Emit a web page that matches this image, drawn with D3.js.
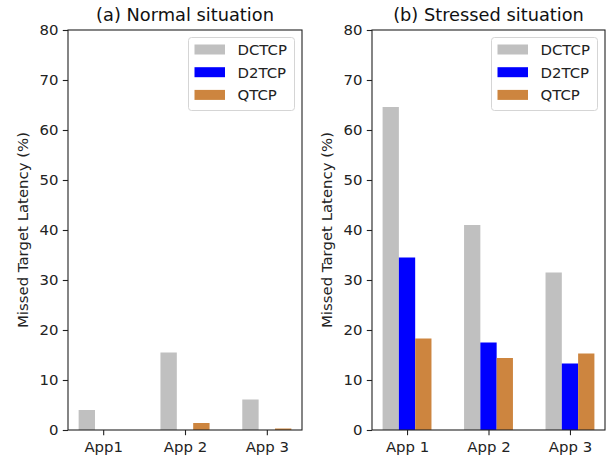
<!DOCTYPE html>
<html>
<head>
<meta charset="utf-8">
<script src="https://cdn.jsdelivr.net/npm/d3@7"></script>
<style>
    body { margin: 0; background: #fff; }
    svg { font-family: "DejaVu Sans", sans-serif; }
    .axis path, .axis line { stroke: #222; stroke-width: 1.1; }
</style>
</head>
<body>
<div id="chart"></div>
<script>

// series names and colours
const seriesNames = ["DCTCP", "D2TCP", "QTCP"];
const seriesColors = ["#c0c0c0", "#0000ff", "#cd853f"];

// tick labels (left panel writes "App1" without a space)
const normalLabels = ["App1", "App 2", "App 3"];
const stressedLabels = ["App 1", "App 2", "App 3"];
const yTicks = [0, 10, 20, 30, 40, 50, 60, 70, 80];

// (a) Normal situation
const normalDCTCP = [4.0, 15.5, 6.1];
const normalD2TCP = [0, 0, 0];
const normalQTCP = [0, 1.4, 0.3];

// (b) Stressed situation
const stressedDCTCP = [64.6, 41.0, 31.5];
const stressedD2TCP = [34.5, 17.5, 13.3];
const stressedQTCP = [18.3, 14.4, 15.3];

const panels = [
    {title: "(a) Normal situation", labels: normalLabels, series: [normalDCTCP, normalD2TCP, normalQTCP], left: 68, right: 302},
    {title: "(b) Stressed situation", labels: stressedLabels, series: [stressedDCTCP, stressedD2TCP, stressedQTCP], left: 372, right: 605}
];

const plotTop = 30, plotBottom = 430;
const barW = 0.2;
const tickFont = 14.9;

const svg = d3.select("#chart").append("svg")
    .attr("width", 606)
    .attr("height", 458);

panels.forEach(function (p) {
    let w = p.right - p.left;
    let h = plotBottom - plotTop;

    let g = svg.append("g")
        .attr("transform", "translate(" + p.left + "," + plotTop + ")");

    let x = d3.scaleLinear().domain([-0.43, 2.43]).range([0, w]);
    let y = d3.scaleLinear().domain([0, 80]).range([h, 0]);

    // bars
    p.series.forEach(function (vals, s) {
        g.selectAll(".bar-" + s)
            .data(vals)
            .enter().append("rect")
            .attr("class", "bar-" + s)
            .attr("x", (d, i) => x(i + (s - 1) * barW - barW / 2))
            .attr("width", x(barW) - x(0))
            .attr("y", d => y(d))
            .attr("height", d => y(0) - y(d))
            .attr("fill", seriesColors[s]);
    });

    // axes
    g.append("g")
        .attr("class", "axis")
        .call(d3.axisLeft(y).tickValues(yTicks).tickSize(5.2).tickPadding(4.3))
        .call(a => a.select(".domain").remove())
        .attr("font-size", tickFont)
        .attr("font-family", "DejaVu Sans")
        .selectAll("text").attr("fill", "#222");

    g.append("g")
        .attr("class", "axis")
        .attr("transform", "translate(0," + h + ")")
        .call(d3.axisBottom(x).tickValues([0, 1, 2]).tickFormat((d, i) => p.labels[i]).tickSize(5.2).tickPadding(6))
        .call(a => a.select(".domain").remove())
        .attr("font-size", tickFont)
        .attr("font-family", "DejaVu Sans")
        .selectAll("text").attr("fill", "#222");

    // frame
    g.append("rect")
        .attr("width", w)
        .attr("height", h)
        .attr("fill", "none")
        .attr("stroke", "#222")
        .attr("stroke-width", 1.1);

    // title
    g.append("text")
        .attr("x", w / 2)
        .attr("y", -9)
        .attr("text-anchor", "middle")
        .attr("font-size", "17.8px")
        .attr("fill", "#111")
        .text(p.title);

    // y label
    g.append("text")
        .attr("transform", "translate(" + (23 - 68) + "," + (h / 2) + ") rotate(-90)")
        .attr("text-anchor", "middle")
        .attr("dy", "0.35em")
        .attr("font-size", tickFont)
        .attr("fill", "#222")
        .text("Missed Target Latency (%)");

    // legend
    let lg = g.append("g")
        .attr("transform", "translate(" + (w - 113.5) + "," + 7.5 + ")");

    lg.append("rect")
        .attr("width", 106)
        .attr("height", 73)
        .attr("rx", 3)
        .attr("fill", "#fff")
        .attr("fill-opacity", 0.8)
        .attr("stroke", "#d5d5d5")
        .attr("stroke-width", 1);

    seriesNames.forEach(function (name, s) {
        let cy = 12 + s * 22.7;
        lg.append("rect")
            .attr("x", 6)
            .attr("y", cy - 5)
            .attr("width", 30.5)
            .attr("height", 10)
            .attr("fill", seriesColors[s]);
        lg.append("text")
            .attr("x", 49)
            .attr("y", cy)
            .attr("dy", "0.36em")
            .attr("font-size", tickFont)
            .attr("fill", "#222")
            .text(name);
    });
});

</script>
</body>
</html>
